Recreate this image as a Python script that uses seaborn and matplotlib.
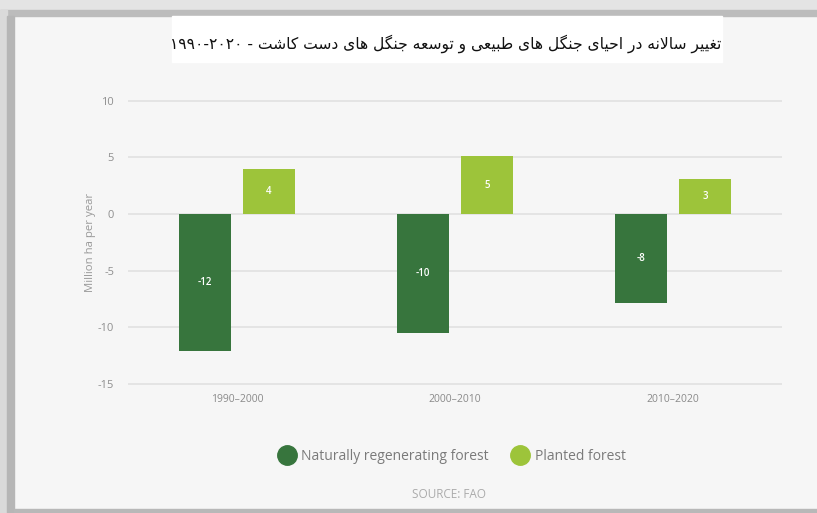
import matplotlib
matplotlib.use("Agg")
import numpy as np
import pandas as pd
import matplotlib.pyplot as plt
import seaborn as sns
from matplotlib.lines import Line2D
from matplotlib.patches import Rectangle

# data
periods = ["1990–2000", "2000–2010", "2010–2020"]
series = ["Naturally regenerating forest", "Planted forest"]
natural = [-12.1, -10.5, -7.9]
planted = [4.0, 5.1, 3.1]
natural_labels = ["-12", "-10", "-8"]
planted_labels = ["4", "5", "3"]
yticks = [-15, -10, -5, 0, 5, 10]
colors = ["#37753d", "#9dc43a"]

title_words = "تغییر سالانه در احیای جنگل های طبیعی و توسعه جنگل های دست کاشت"
title_years = "۱۹۹۰-۲۰۲۰"

# matplotlib has no arabic shaping, so map letters to presentation forms
FORMS = {
    'ا': (0xFE8D, 0xFE8E), 'د': (0xFEA9, 0xFEAA), 'ر': (0xFEAD, 0xFEAE),
    'و': (0xFEED, 0xFEEE),
    'ب': (0xFE8F, 0xFE90, 0xFE91, 0xFE92), 'ت': (0xFE95, 0xFE96, 0xFE97, 0xFE98),
    'ج': (0xFE9D, 0xFE9E, 0xFE9F, 0xFEA0), 'ح': (0xFEA1, 0xFEA2, 0xFEA3, 0xFEA4),
    'س': (0xFEB1, 0xFEB2, 0xFEB3, 0xFEB4), 'ش': (0xFEB5, 0xFEB6, 0xFEB7, 0xFEB8),
    'ط': (0xFEC1, 0xFEC2, 0xFEC3, 0xFEC4), 'ع': (0xFEC9, 0xFECA, 0xFECB, 0xFECC),
    'غ': (0xFECD, 0xFECE, 0xFECF, 0xFED0), 'ل': (0xFEDD, 0xFEDE, 0xFEDF, 0xFEE0),
    'م': (0xFEE1, 0xFEE2, 0xFEE3, 0xFEE4), 'ن': (0xFEE5, 0xFEE6, 0xFEE7, 0xFEE8),
    'ه': (0xFEE9, 0xFEEA, 0xFEEB, 0xFEEC), 'ی': (0xFBFC, 0xFBFD, 0xFBFE, 0xFBFF),
    'ک': (0xFB8E, 0xFB8F, 0xFB90, 0xFB91), 'گ': (0xFB92, 0xFB93, 0xFB94, 0xFB95),
}


def shape(word):
    out = []
    i = 0
    while i < len(word):
        ch = word[i]
        prev = word[i - 1] if i > 0 else None
        joins_prev = prev is not None and len(FORMS.get(prev, ())) == 4
        if ch == 'ل' and i + 1 < len(word) and word[i + 1] == 'ا':
            out.append(chr(0xFEFC if joins_prev else 0xFEFB))
            i += 2
            continue
        f = FORMS[ch]
        nxt = word[i + 1] if i + 1 < len(word) else None
        joins_next = len(f) == 4 and nxt in FORMS
        if joins_prev and joins_next:
            c = f[3]
        elif joins_prev:
            c = f[1]
        elif joins_next:
            c = f[2]
        else:
            c = f[0]
        out.append(chr(c))
        i += 1
    return "".join(out)


shaped = " ".join(shape(w) for w in title_words.split())
title_visual = title_years + " - " + shaped[::-1]

df = pd.DataFrame({
    "period": periods * 2,
    "value": natural + planted,
    "series": [series[0]] * 3 + [series[1]] * 3,
})

sns.set_theme(style="whitegrid")
plt.rcParams["font.family"] = ["Open Sans", "DejaVu Sans"]
plt.rcParams["axes.unicode_minus"] = False

bg = "#f6f6f6"
fig = plt.figure(figsize=(8.17, 5.13), dpi=100, facecolor=bg)

# screenshot shadow border
fig.add_artist(Rectangle((0, 1 - 10 / 513), 1, 10 / 513, transform=fig.transFigure,
                         color="#e4e4e4", zorder=0))
fig.add_artist(Rectangle((0, 1 - 16 / 513), 1, 6 / 513, transform=fig.transFigure,
                         color="#bcbcbc", zorder=0))
fig.add_artist(Rectangle((0, 0), 7 / 817, 1 - 10 / 513, transform=fig.transFigure,
                         color="#dadada", zorder=0))
fig.add_artist(Rectangle((7 / 817, 0), 7 / 817, 1 - 16 / 513, transform=fig.transFigure,
                         color="#b6b6b6", zorder=0))
fig.add_artist(Rectangle((14 / 817, 0), 1, 4 / 513, transform=fig.transFigure,
                         color="#b8b8b8", zorder=0))

# white title box
fig.add_artist(Rectangle((172 / 817, 1 - 62 / 513), 550 / 817, 46 / 513,
                         transform=fig.transFigure, color="white", zorder=1))
fig.text(446 / 817, 1 - 44 / 513, title_visual, ha="center", va="center",
         fontsize=11.2, family="DejaVu Sans", color="#111111", zorder=2)

ymin, ymax = -15.5, 10.5
ppu = 283 / 25
ax = fig.add_axes([128 / 817, 1 - (214 - ymin * ppu) / 513, 654 / 817,
                   (ymax - ymin) * ppu / 513])
ax.set_facecolor(bg)

sns.barplot(data=df, x="period", y="value", hue="series", palette=colors,
            hue_order=series, order=periods, width=0.587, gap=0.172,
            saturation=1, errorbar=None, legend=False, linewidth=0, ax=ax)

for cont, labs in zip(ax.containers, [natural_labels, planted_labels]):
    ax.bar_label(cont, labels=labs, label_type="center", color="white",
                 fontsize=7, fontweight="semibold")

ax.set_ylim(ymin, ymax)
ax.set_yticks(yticks)
ax.set_xlim(-0.5, 2.5)
ax.grid(axis="y", color="#e1e1e1", lw=1.2)
ax.grid(axis="x", visible=False)
ax.set_axisbelow(True)
for s in ax.spines.values():
    s.set_visible(False)
ax.tick_params(axis="y", length=0, pad=10, labelsize=8, labelcolor="#8f8f8f")
ax.tick_params(axis="x", length=0, pad=3, labelsize=7.5, labelcolor="#8a8a8a")
ax.set_xlabel("")
ax.set_ylabel("Million ha per year", fontsize=8.2, color="#999999", labelpad=1)

handles = [Line2D([], [], marker="o", ls="", markersize=14, color=c) for c in colors]
fig.legend(handles, series, loc="center", bbox_to_anchor=(452 / 817, 1 - 456 / 513),
           ncol=2, frameon=False, fontsize=10, labelcolor="#7a7a7a",
           handletextpad=0.45, columnspacing=1.65, handlelength=1.2)

fig.text(449 / 817, 1 - 494 / 513, "SOURCE: FAO", ha="center", va="center",
         fontsize=8.5, color="#ababab")

fig.savefig("out.png", dpi=100, facecolor=bg)
